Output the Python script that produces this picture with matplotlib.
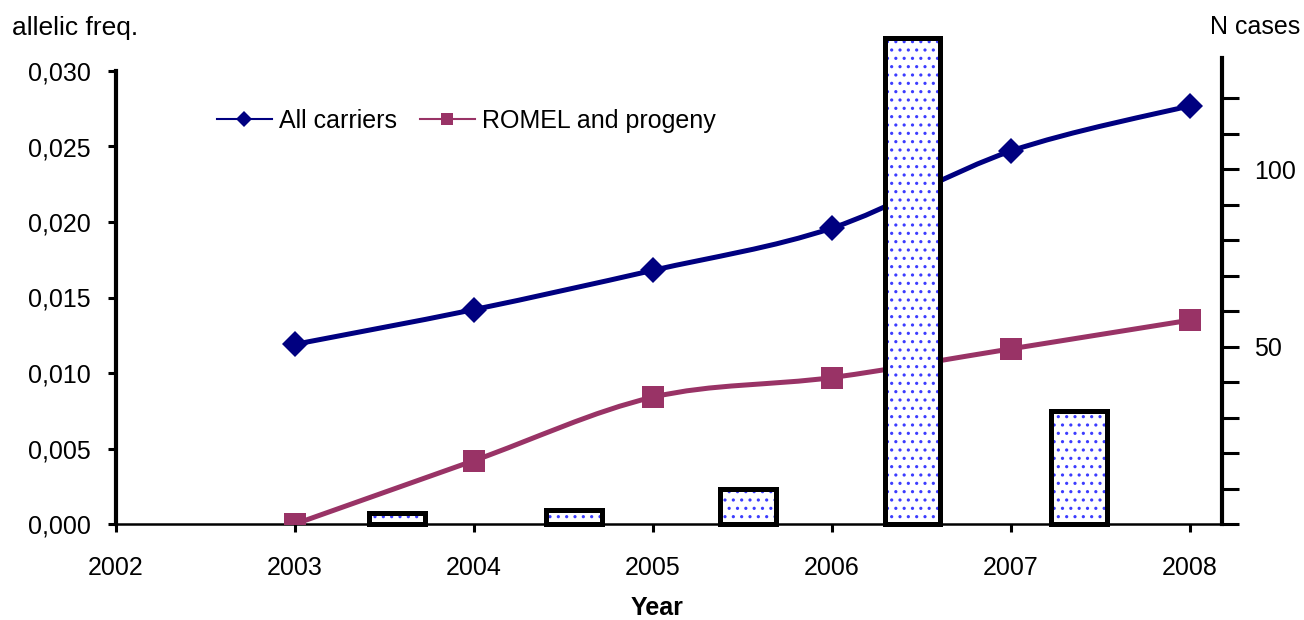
import matplotlib
matplotlib.use("Agg")
import matplotlib.pyplot as plt
import numpy as np
from matplotlib.path import Path
from matplotlib.patches import PathPatch
from matplotlib.lines import Line2D
from matplotlib.ticker import FixedLocator, FixedFormatter

plt.rcParams['font.family'] = ['Liberation Sans', 'DejaVu Sans']
plt.rcParams['hatch.linewidth'] = 1.1

# datos
years = [2003, 2004, 2005, 2006, 2007, 2008]
all_carriers = [0.0119, 0.0142, 0.0168, 0.0196, 0.0247, 0.0277]
romel = [0.0000, 0.0042, 0.0084, 0.0097, 0.0116, 0.0135]
bar_x = [2003.57, 2004.56, 2005.53, 2006.45, 2007.38]
n_cases = [3, 4, 10, 137, 32]
x_ticks = [2002, 2003, 2004, 2005, 2006, 2007, 2008]
y_ticks = [0.000, 0.005, 0.010, 0.015, 0.020, 0.025, 0.030]
y_tick_labels = ['0,000', '0,005', '0,010', '0,015', '0,020', '0,025', '0,030']
n_ticks = [0, 10, 20, 30, 40, 50, 60, 70, 80, 90, 100, 110, 120]
n_tick_labels = ['', '', '', '', '', '50', '', '', '', '', '100', '', '']

BLUE = '#000080'
PLUM = '#993366'


def curva_suave(xs, ys):
    """Path de Bezier al estilo de la linea suavizada de Excel."""
    pts = np.column_stack([xs, ys])
    verts = [pts[0]]
    codes = [Path.MOVETO]
    n = len(pts)
    for i in range(n - 1):
        p0 = pts[max(i - 1, 0)]
        p1 = pts[i]
        p2 = pts[i + 1]
        p3 = pts[min(i + 2, n - 1)]
        c1 = p1 + (p2 - p0) / 6.0
        c2 = p2 - (p3 - p1) / 6.0
        verts += [c1, c2, p2]
        codes += [Path.CURVE4] * 3
    return Path(verts, codes)


fig = plt.figure(figsize=(13.04, 6.2), dpi=100)
ax = fig.add_axes([116 / 1304, 1 - 524 / 620, (1222 - 116) / 1304, (524 - 58) / 620])
ax2 = ax.twinx()

# lineas
for serie, color, marker, ms in [(all_carriers, BLUE, 'D', 13.5), (romel, PLUM, 's', 16)]:
    ax.add_patch(PathPatch(curva_suave(years, serie), facecolor='none', edgecolor=color,
                           lw=3.6, capstyle='round', joinstyle='round', zorder=3))
    ax.plot(years, serie, linestyle='none', marker=marker, color=color, ms=ms,
            markeredgewidth=0, zorder=4)

ax.set_xlim(2002, 2008 + (1222 - 1190) / 179)
ax.set_ylim(0, 0.030 * (524 - 58) / (524 - 71))
ax.set_xticks(x_ticks)
ax.set_yticks(y_ticks)
ax.set_yticklabels(y_tick_labels)
ax.spines['top'].set_visible(False)
ax.spines['right'].set_visible(False)
ax.spines['left'].set_bounds(0, 0.030)
ax.spines['left'].set_linewidth(3)
ax.spines['bottom'].set_linewidth(1.8)
ax.tick_params(axis='y', length=6, width=2.2, labelsize=18, pad=12)
ax.tick_params(axis='x', length=6, width=2.2, labelsize=18, pad=17)

# barras
ax2.bar(bar_x, n_cases, width=0.31, color='white', hatch='..', edgecolor='#3c3cff',
        linewidth=0, clip_on=False, zorder=2)
ax2.bar(bar_x, n_cases, width=0.31, color='none', edgecolor='black',
        linewidth=3.6, clip_on=False, zorder=3)
ax2.set_ylim(0, (524 - 58) / 3.546)
ax2.yaxis.set_major_locator(FixedLocator(n_ticks))
ax2.yaxis.set_major_formatter(FixedFormatter(n_tick_labels))
ax2.spines['top'].set_visible(False)
ax2.spines['left'].set_visible(False)
ax2.spines['bottom'].set_visible(False)
ax2.spines['right'].set_linewidth(3)
ax2.tick_params(axis='y', length=12, width=2.2, labelsize=18, pad=11)

# leyenda
handles = [Line2D([], [], color=BLUE, lw=1.5, marker='D', ms=8, markeredgewidth=0),
           Line2D([], [], color=PLUM, lw=1.5, marker='s', ms=9, markeredgewidth=0)]
fig.legend(handles, ['All carriers', 'ROMEL and progeny'], ncol=2, frameon=False,
           loc='center left', bbox_to_anchor=(204 / 1304, 1 - 121 / 620),
           borderpad=0, handlelength=2.2, handletextpad=0.3, columnspacing=0.9,
           fontsize=18)

fig.text(12 / 1304, 1 - 28 / 620, 'allelic freq.', fontsize=19, va='center', ha='left')
fig.text(1300 / 1304, 1 - 27 / 620, 'N cases', fontsize=18, va='center', ha='right')
fig.text(657 / 1304, 1 - 608 / 620, 'Year', fontsize=18, fontweight='bold',
         va='center', ha='center')

fig.savefig('out.png', dpi=100)
